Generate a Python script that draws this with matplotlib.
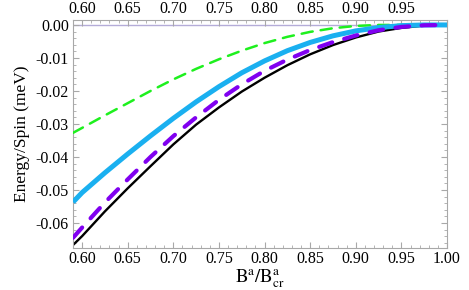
import numpy as np
import matplotlib
matplotlib.use("Agg")
import matplotlib.pyplot as plt
from matplotlib.ticker import MultipleLocator, FormatStrFormatter

plt.rcParams['font.family'] = ['Liberation Serif', 'DejaVu Serif']
plt.rcParams['mathtext.fontset'] = 'stix'

# field ratio B^a / B^a_cr
b = [0.59, 0.60, 0.625, 0.65, 0.675, 0.70, 0.725, 0.75, 0.775, 0.80,
     0.825, 0.85, 0.875, 0.90, 0.925, 0.95, 0.975, 1.00]

# energy per spin (meV)
e_black = [-0.0667, -0.0640, -0.0565, -0.0495, -0.0428, -0.0362, -0.0302, -0.0250, -0.0202, -0.0160,
           -0.0122, -0.0089, -0.0061, -0.0038, -0.0020, -0.0009, -0.0002, 0.0]
e_purple = [-0.0645, -0.0614, -0.0538, -0.0468, -0.0400, -0.0337, -0.0280, -0.0227, -0.0180, -0.0139,
            -0.0105, -0.0076, -0.0052, -0.0032, -0.0016, -0.0006, -0.0001, 0.0]
e_cyan = [-0.0537, -0.0508, -0.0448, -0.0391, -0.0336, -0.0283, -0.0233, -0.0187, -0.0145, -0.0109,
          -0.0078, -0.0053, -0.0033, -0.0018, -0.0008, -0.0002, 0.0, 0.0]
e_green = [-0.0327, -0.0312, -0.0274, -0.0237, -0.0200, -0.0165, -0.0133, -0.0104, -0.0078, -0.0055,
           -0.0036, -0.0021, -0.0010, -0.0003, 0.0, 0.0, 0.0, 0.0]

fig = plt.figure(figsize=(4.69, 2.90), dpi=100)
ax = fig.add_axes([73/469, 42/290, 374/469, 228/290])

frame = '#a8a8a8'
ax.axhline(0, color='#b4acd8', lw=1.0, zorder=1)

ax.plot(b, e_black, color='black', lw=1.7, zorder=2)
ax.plot(b, e_green, color='#1ef01e', lw=1.8, dashes=(4.5, 3.2), dash_capstyle='round', zorder=3)
ax.plot(b, e_cyan, color='#1ab0f0', lw=3.6, solid_capstyle='butt', zorder=4)
ax.plot(b, e_purple, color='#8000f0', lw=3.0, dashes=(3.3, 3.0), dash_capstyle='round', zorder=5)

ax.set_xlim(0.59, 1.0)
ax.set_ylim(-0.0676, 0.0015)

ax.xaxis.set_major_locator(MultipleLocator(0.05))
ax.xaxis.set_minor_locator(MultipleLocator(0.01))
ax.yaxis.set_major_locator(MultipleLocator(0.01))
ax.yaxis.set_minor_locator(MultipleLocator(0.002))
ax.xaxis.set_major_formatter(FormatStrFormatter('%.2f'))
ax.yaxis.set_major_formatter(FormatStrFormatter('%.2f'))
ax.set_yticks(np.arange(-0.06, 0.005, 0.01))

ax.tick_params(which='both', direction='in', top=True, right=True, color=frame,
               labelsize=11.5, pad=3)
ax.tick_params(axis='x', pad=2)
ax.tick_params(which='major', length=4, width=0.8)
ax.tick_params(which='minor', length=2, width=0.6)
for s in ax.spines.values():
    s.set_color(frame)
    s.set_linewidth(0.8)

top = ax.secondary_xaxis('top')
top.set_xticks([0.60, 0.65, 0.70, 0.75, 0.80, 0.85, 0.90, 0.95])
top.xaxis.set_major_formatter(FormatStrFormatter('%.2f'))
top.tick_params(length=0, labelsize=11.5, pad=2)
top.spines['top'].set_visible(False)

ax.set_xlabel(r'$\mathrm{B}^{\mathrm{a}}/\mathrm{B}^{\mathrm{a}}_{\mathrm{cr}}$', fontsize=13.5, labelpad=0)
ax.set_ylabel('Energy/Spin (meV)', fontsize=12.5, labelpad=4)

fig.savefig('out.png', dpi=100)
